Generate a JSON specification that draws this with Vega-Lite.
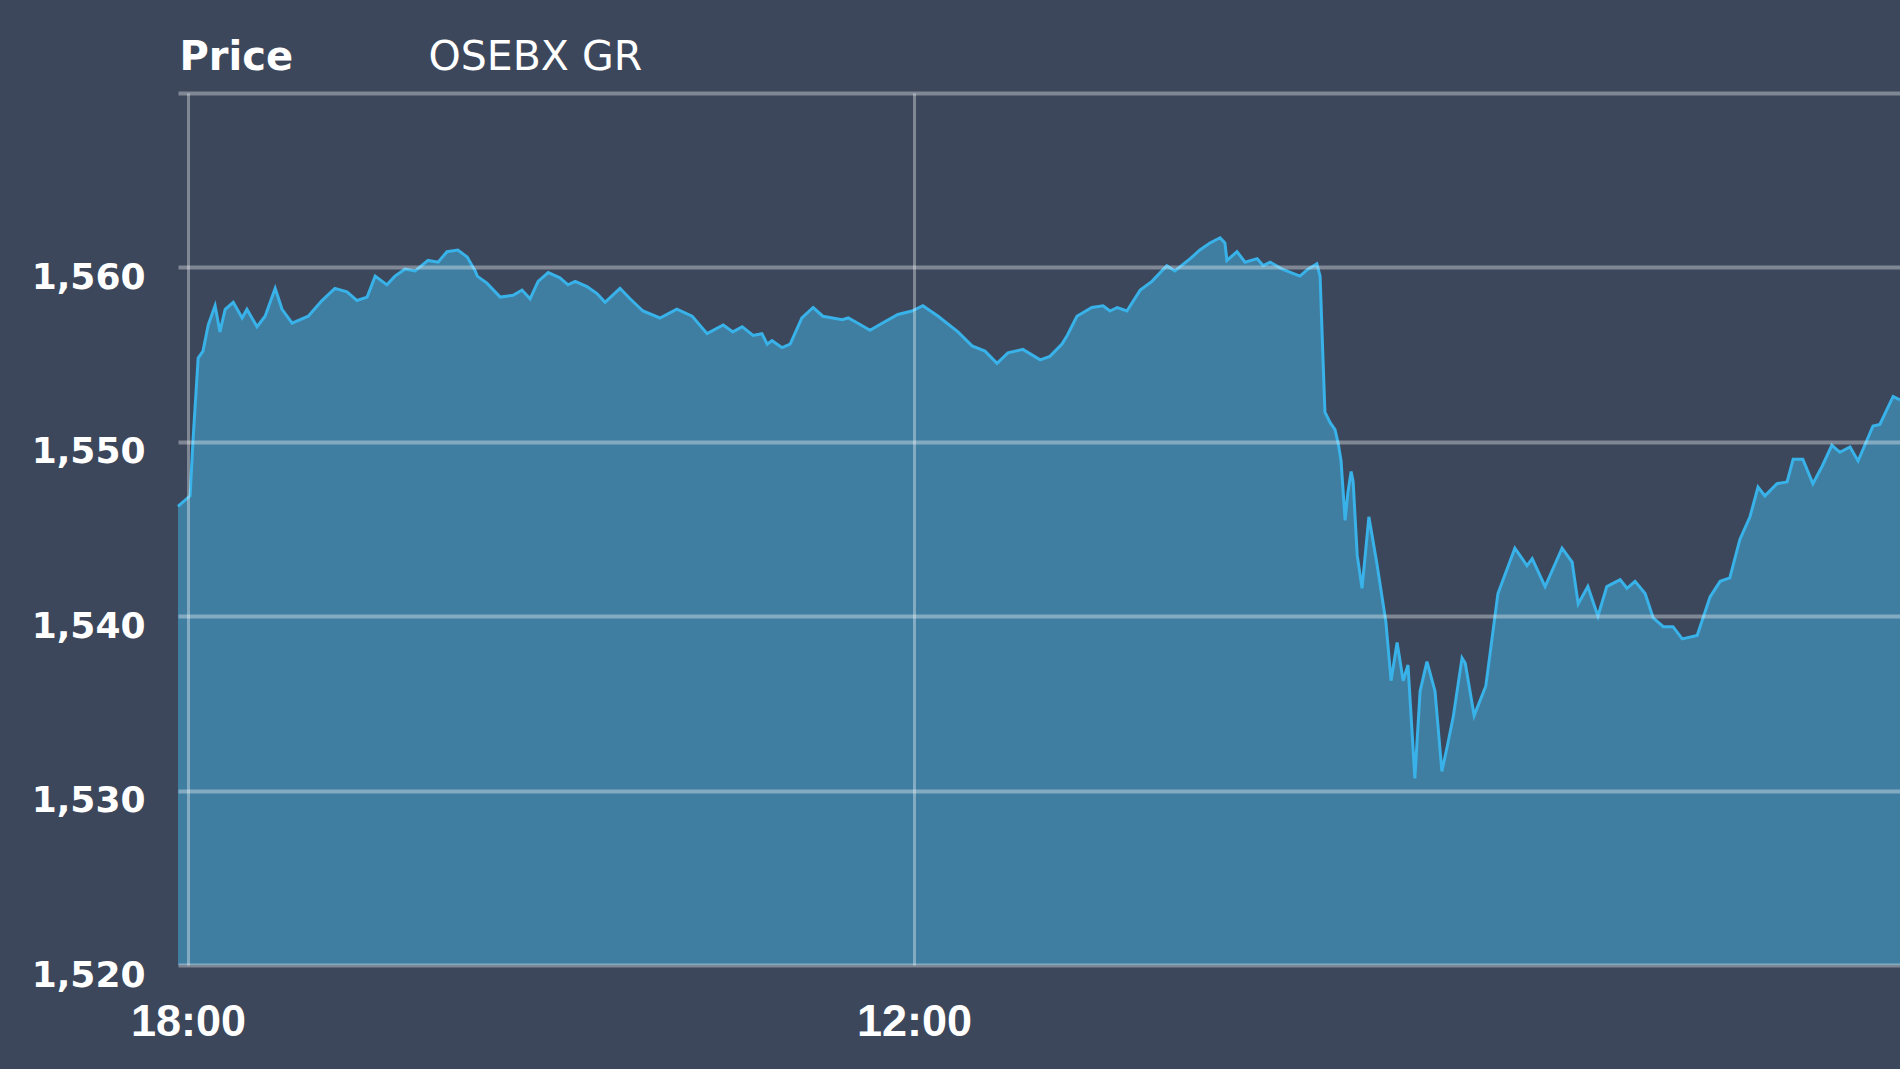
{
  "$schema": "https://vega.github.io/schema/vega-lite/v6.json",
  "autosize": {"type": "none"},
  "width": 1722,
  "height": 872,
  "padding": {"left": 178, "top": 93, "right": 0, "bottom": 104},
  "background": "#3c475b",
  "config": {"view": {"stroke": null}},
  "data": {
    "values": [
      {"t": -2.5, "price": 1546.3}, {"t": 0.5, "price": 1546.9}, {"t": 1.2, "price": 1550.0}, {"t": 2.5, "price": 1554.8},
      {"t": 3.7, "price": 1555.2}, {"t": 5.0, "price": 1556.7}, {"t": 6.7, "price": 1557.8}, {"t": 7.9, "price": 1556.3},
      {"t": 9.2, "price": 1557.6}, {"t": 11.2, "price": 1558.0}, {"t": 13.4, "price": 1557.1}, {"t": 14.6, "price": 1557.6},
      {"t": 17.1, "price": 1556.6}, {"t": 19.1, "price": 1557.2}, {"t": 21.6, "price": 1558.8}, {"t": 23.3, "price": 1557.6},
      {"t": 25.8, "price": 1556.8}, {"t": 29.8, "price": 1557.2}, {"t": 33.2, "price": 1558.1}, {"t": 36.4, "price": 1558.8},
      {"t": 39.4, "price": 1558.6}, {"t": 41.9, "price": 1558.1}, {"t": 44.4, "price": 1558.3}, {"t": 46.4, "price": 1559.5},
      {"t": 49.3, "price": 1559.0}, {"t": 51.3, "price": 1559.5}, {"t": 53.8, "price": 1559.9}, {"t": 56.3, "price": 1559.8},
      {"t": 59.5, "price": 1560.4}, {"t": 62.0, "price": 1560.3}, {"t": 64.2, "price": 1560.9}, {"t": 66.9, "price": 1561.0},
      {"t": 69.2, "price": 1560.6}, {"t": 71.2, "price": 1559.8}, {"t": 71.7, "price": 1559.5}, {"t": 74.1, "price": 1559.1},
      {"t": 77.4, "price": 1558.3}, {"t": 80.6, "price": 1558.4}, {"t": 82.8, "price": 1558.7}, {"t": 84.8, "price": 1558.2},
      {"t": 86.8, "price": 1559.2}, {"t": 89.3, "price": 1559.7}, {"t": 92.2, "price": 1559.4}, {"t": 94.2, "price": 1559.0},
      {"t": 96.0, "price": 1559.2}, {"t": 98.9, "price": 1558.9}, {"t": 101.4, "price": 1558.5}, {"t": 103.4, "price": 1558.0},
      {"t": 107.1, "price": 1558.8}, {"t": 109.6, "price": 1558.2}, {"t": 112.8, "price": 1557.5}, {"t": 117.0, "price": 1557.1},
      {"t": 121.2, "price": 1557.6}, {"t": 125.0, "price": 1557.2}, {"t": 128.7, "price": 1556.2}, {"t": 132.7, "price": 1556.7},
      {"t": 135.1, "price": 1556.3}, {"t": 137.4, "price": 1556.6}, {"t": 140.1, "price": 1556.1}, {"t": 142.3, "price": 1556.2},
      {"t": 143.6, "price": 1555.6}, {"t": 144.8, "price": 1555.8}, {"t": 147.3, "price": 1555.4}, {"t": 149.3, "price": 1555.6},
      {"t": 152.2, "price": 1557.1}, {"t": 155.0, "price": 1557.7}, {"t": 157.4, "price": 1557.2}, {"t": 162.2, "price": 1557.0},
      {"t": 163.7, "price": 1557.1}, {"t": 166.1, "price": 1556.8}, {"t": 169.1, "price": 1556.4}, {"t": 172.1, "price": 1556.8},
      {"t": 176.0, "price": 1557.3}, {"t": 179.5, "price": 1557.5}, {"t": 182.2, "price": 1557.8}, {"t": 186.0, "price": 1557.2},
      {"t": 190.9, "price": 1556.3}, {"t": 194.4, "price": 1555.5}, {"t": 197.6, "price": 1555.2}, {"t": 200.6, "price": 1554.5},
      {"t": 203.3, "price": 1555.1}, {"t": 207.0, "price": 1555.3}, {"t": 211.3, "price": 1554.7}, {"t": 213.7, "price": 1554.9},
      {"t": 216.7, "price": 1555.6}, {"t": 218.0, "price": 1556.1}, {"t": 220.4, "price": 1557.2}, {"t": 224.1, "price": 1557.7},
      {"t": 226.9, "price": 1557.8}, {"t": 228.6, "price": 1557.5}, {"t": 230.4, "price": 1557.7}, {"t": 232.8, "price": 1557.5},
      {"t": 236.1, "price": 1558.7}, {"t": 239.0, "price": 1559.2}, {"t": 242.7, "price": 1560.1}, {"t": 244.7, "price": 1559.8},
      {"t": 248.5, "price": 1560.5}, {"t": 250.9, "price": 1561.0}, {"t": 253.4, "price": 1561.4}, {"t": 255.9, "price": 1561.7},
      {"t": 257.1, "price": 1561.4}, {"t": 257.6, "price": 1560.4}, {"t": 260.1, "price": 1560.9}, {"t": 262.1, "price": 1560.3},
      {"t": 265.1, "price": 1560.5}, {"t": 266.6, "price": 1560.1}, {"t": 268.3, "price": 1560.3}, {"t": 271.3, "price": 1559.9},
      {"t": 275.7, "price": 1559.5}, {"t": 277.7, "price": 1559.9}, {"t": 279.9, "price": 1560.2}, {"t": 280.7, "price": 1559.5},
      {"t": 281.4, "price": 1554.9}, {"t": 281.9, "price": 1551.7}, {"t": 283.2, "price": 1551.1}, {"t": 284.4, "price": 1550.7},
      {"t": 285.2, "price": 1549.9}, {"t": 285.9, "price": 1548.9}, {"t": 286.9, "price": 1545.5}, {"t": 287.6, "price": 1547.1},
      {"t": 288.4, "price": 1548.3}, {"t": 288.9, "price": 1547.7}, {"t": 289.9, "price": 1543.5}, {"t": 291.1, "price": 1541.6},
      {"t": 292.8, "price": 1545.7}, {"t": 294.8, "price": 1543.0}, {"t": 297.0, "price": 1539.7}, {"t": 298.3, "price": 1536.3},
      {"t": 299.8, "price": 1538.5}, {"t": 301.3, "price": 1536.3}, {"t": 302.5, "price": 1537.2}, {"t": 304.2, "price": 1530.7},
      {"t": 305.5, "price": 1535.7}, {"t": 307.2, "price": 1537.4}, {"t": 309.2, "price": 1535.7}, {"t": 310.9, "price": 1531.1},
      {"t": 312.2, "price": 1532.5}, {"t": 313.7, "price": 1534.2}, {"t": 315.9, "price": 1537.6}, {"t": 316.7, "price": 1537.3},
      {"t": 318.9, "price": 1534.3}, {"t": 321.8, "price": 1536.0}, {"t": 324.8, "price": 1541.3}, {"t": 329.0, "price": 1543.9},
      {"t": 332.0, "price": 1542.9}, {"t": 333.3, "price": 1543.3}, {"t": 336.5, "price": 1541.7}, {"t": 340.7, "price": 1543.9},
      {"t": 343.2, "price": 1543.1}, {"t": 344.7, "price": 1540.7}, {"t": 347.1, "price": 1541.7}, {"t": 349.6, "price": 1540.0},
      {"t": 351.8, "price": 1541.7}, {"t": 355.1, "price": 1542.1}, {"t": 356.8, "price": 1541.6}, {"t": 358.8, "price": 1542.0},
      {"t": 361.3, "price": 1541.3}, {"t": 363.3, "price": 1539.9}, {"t": 365.8, "price": 1539.4}, {"t": 368.2, "price": 1539.4},
      {"t": 370.5, "price": 1538.7}, {"t": 374.2, "price": 1538.9}, {"t": 377.4, "price": 1541.1}, {"t": 379.9, "price": 1542.0},
      {"t": 382.3, "price": 1542.2}, {"t": 384.8, "price": 1544.4}, {"t": 387.3, "price": 1545.7}, {"t": 389.3, "price": 1547.4},
      {"t": 391.0, "price": 1546.9}, {"t": 394.0, "price": 1547.6}, {"t": 396.5, "price": 1547.7}, {"t": 398.0, "price": 1549.0},
      {"t": 400.4, "price": 1549.0}, {"t": 402.9, "price": 1547.6}, {"t": 405.2, "price": 1548.6}, {"t": 407.6, "price": 1549.8},
      {"t": 409.6, "price": 1549.4}, {"t": 412.1, "price": 1549.7}, {"t": 414.1, "price": 1548.9}, {"t": 417.8, "price": 1550.9},
      {"t": 419.5, "price": 1551.0}, {"t": 422.8, "price": 1552.6}, {"t": 424.5, "price": 1552.4}
    ]
  },
  "mark": {
    "type": "area",
    "color": "#3f7ea1",
    "opacity": 1,
    "line": {"color": "#38b2e8", "strokeWidth": 3}
  },
  "encoding": {
    "x": {
      "field": "t",
      "type": "quantitative",
      "scale": {"domain": [-2.5, 424.5], "nice": false, "zero": false},
      "axis": {
        "title": "OSEBX GR",
        "titleX": 250,
        "titleY": -896,
        "titleAlign": "left",
        "titleBaseline": "alphabetic",
        "titleFont": "DejaVu Sans",
        "titleFontSize": 41,
        "titleFontWeight": "normal",
        "titleColor": "#ffffff",
        "values": [0, 180],
        "labelExpr": "datum.value == 0 ? '18:00' : '12:00'",
        "domain": false,
        "ticks": false,
        "tickSize": 0,
        "labelPadding": 70,
        "labelBaseline": "alphabetic",
        "labelAlign": "center",
        "labelFont": "Liberation Sans",
        "labelFontSize": 45,
        "labelFontWeight": "bold",
        "labelColor": "#ffffff",
        "labelFlush": false,
        "grid": true,
        "gridColor": "#ffffff",
        "gridOpacity": 0.35,
        "gridWidth": 3,
        "zindex": 1
      }
    },
    "y": {
      "field": "price",
      "type": "quantitative",
      "scale": {"domain": [1520, 1570], "nice": false, "zero": false},
      "axis": {
        "title": "Price",
        "titleAngle": 0,
        "titleAlign": "left",
        "titleBaseline": "alphabetic",
        "titleX": 1,
        "titleY": -24,
        "titleFont": "DejaVu Sans",
        "titleFontSize": 40,
        "titleFontWeight": "bold",
        "titleColor": "#ffffff",
        "values": [1520, 1530, 1540, 1550, 1560, 1570],
        "labelExpr": "datum.value == 1570 ? '' : format(datum.value, ',')",
        "domain": false,
        "ticks": false,
        "tickSize": 0,
        "labelPadding": 33,
        "labelBaseline": "alphabetic",
        "labelOffset": 21,
        "labelFont": "DejaVu Sans",
        "labelFontSize": 36,
        "labelFontWeight": "bold",
        "labelColor": "#ffffff",
        "labelFlush": false,
        "grid": true,
        "gridColor": "#ffffff",
        "gridOpacity": 0.35,
        "gridWidth": 4,
        "zindex": 1
      }
    },
    "y2": {"datum": 1520}
  }
}
